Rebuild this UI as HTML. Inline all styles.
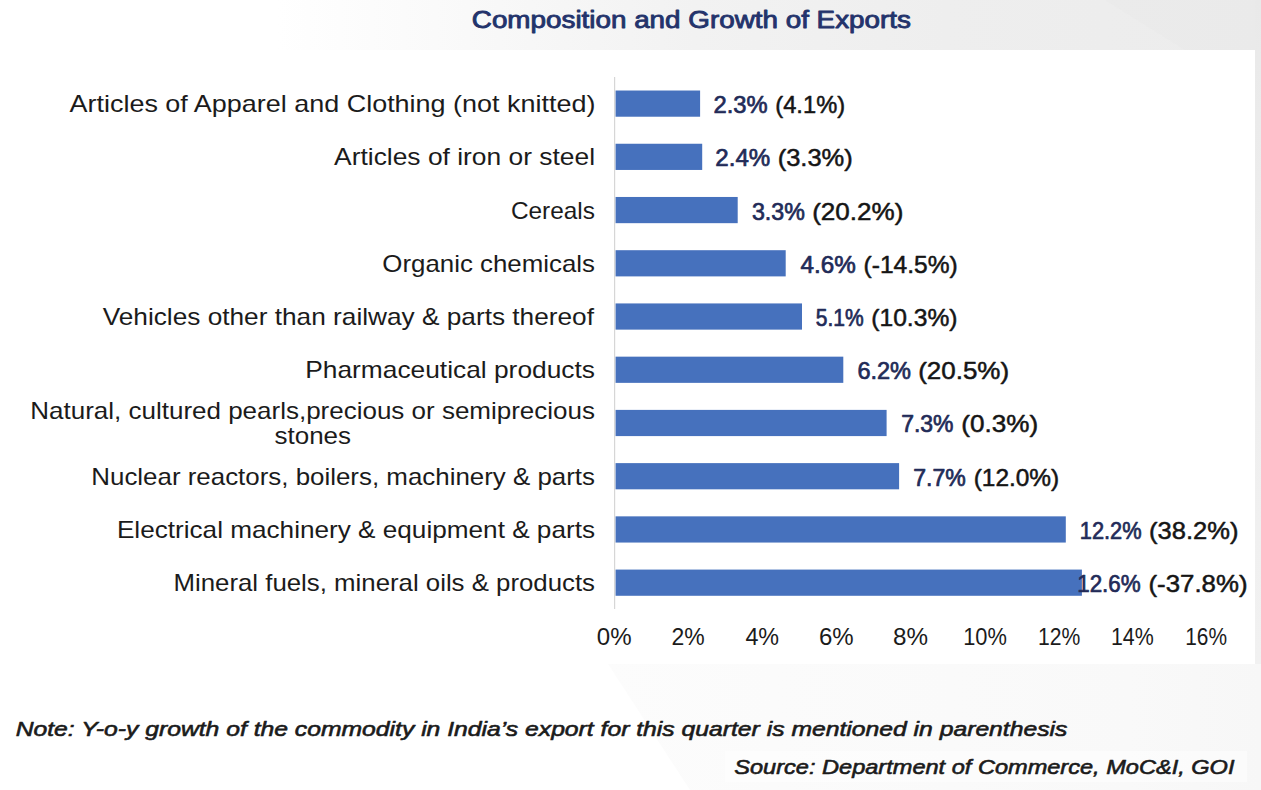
<!DOCTYPE html><html><head><meta charset="utf-8"><style>html,body{margin:0;padding:0;background:#fff;}svg{display:block;font-family:"Liberation Sans",sans-serif;}</style></head><body>
<svg width="1261" height="790" viewBox="0 0 1261 790">
<defs>
<linearGradient id="topg" x1="0" y1="0" x2="1261" y2="0" gradientUnits="userSpaceOnUse">
<stop offset="0" stop-color="#ffffff"/><stop offset="0.22" stop-color="#ffffff"/><stop offset="0.37" stop-color="#f9f9f9"/><stop offset="0.55" stop-color="#f2f2f2"/><stop offset="0.75" stop-color="#eeeeee"/><stop offset="1" stop-color="#ececec"/>
</linearGradient>
<linearGradient id="rg" x1="0" y1="0" x2="0" y2="790" gradientUnits="userSpaceOnUse">
<stop offset="0" stop-color="#e9e9e9"/><stop offset="0.15" stop-color="#ebebeb"/><stop offset="0.5" stop-color="#efefef"/><stop offset="0.84" stop-color="#f1f1f1"/><stop offset="1" stop-color="#f3f3f3"/>
</linearGradient>
<linearGradient id="botg" x1="600" y1="0" x2="1261" y2="0" gradientUnits="userSpaceOnUse">
<stop offset="0" stop-color="#fcfcfc"/><stop offset="0.8" stop-color="#f9f9f9"/><stop offset="1" stop-color="#f7f7f7"/>
</linearGradient>
</defs>
<rect x="0" y="0" width="1261" height="50" fill="url(#topg)"/>
<polygon points="1105,0 1261,0 1261,50 1185,50" fill="#e9e9e9" opacity="0.7"/>
<polygon points="608,664 1261,664 1261,790 690,790" fill="url(#botg)"/>
<rect x="725" y="751" width="522" height="31" fill="#ffffff" opacity="0.45"/>
<rect x="1255" y="0" width="6" height="664" fill="url(#rg)"/>
<rect x="0" y="50" width="1255" height="614" fill="#ffffff"/>

<g fill="#4671BD">
<rect x="615.5" y="90.52" width="84.60" height="26.2"/>
<rect x="615.5" y="143.75" width="86.70" height="26.2"/>
<rect x="615.5" y="196.97" width="122.20" height="26.2"/>
<rect x="615.5" y="250.20" width="170.20" height="26.2"/>
<rect x="615.5" y="303.43" width="186.50" height="26.2"/>
<rect x="615.5" y="356.66" width="227.80" height="26.2"/>
<rect x="615.5" y="409.89" width="271.10" height="26.2"/>
<rect x="615.5" y="463.12" width="283.60" height="26.2"/>
<rect x="615.5" y="516.35" width="450.30" height="26.2"/>
<rect x="615.5" y="569.58" width="466.40" height="26.2"/>
</g>
<rect x="614" y="77" width="1.2" height="532" fill="#D6D6D6"/>
<text id="title" x="471.80" y="27.80" font-size="23.0" font-weight="normal" font-style="normal" fill="#23336B" stroke="#23336B" stroke-width="0.85" stroke-linejoin="round" textLength="439.10" lengthAdjust="spacingAndGlyphs">Composition and Growth of Exports</text>
<text id="cat0" x="69.50" y="112.20" font-size="24" font-weight="normal" font-style="normal" fill="#1b1b1b" textLength="525.90" lengthAdjust="spacingAndGlyphs">Articles of Apparel and Clothing (not knitted)</text>
<text id="cat1" x="334.10" y="165.43" font-size="24" font-weight="normal" font-style="normal" fill="#1b1b1b" textLength="260.90" lengthAdjust="spacingAndGlyphs">Articles of iron or steel</text>
<text id="cat2" x="510.90" y="218.66" font-size="24" font-weight="normal" font-style="normal" fill="#1b1b1b" textLength="84.10" lengthAdjust="spacingAndGlyphs">Cereals</text>
<text id="cat3" x="382.30" y="271.89" font-size="24" font-weight="normal" font-style="normal" fill="#1b1b1b" textLength="212.70" lengthAdjust="spacingAndGlyphs">Organic chemicals</text>
<text id="cat4" x="102.70" y="325.12" font-size="24" font-weight="normal" font-style="normal" fill="#1b1b1b" textLength="491.30" lengthAdjust="spacingAndGlyphs">Vehicles other than railway &amp; parts thereof</text>
<text id="cat5" x="305.20" y="378.35" font-size="24" font-weight="normal" font-style="normal" fill="#1b1b1b" textLength="289.80" lengthAdjust="spacingAndGlyphs">Pharmaceutical products</text>
<text id="cat7" x="91.30" y="484.81" font-size="24" font-weight="normal" font-style="normal" fill="#1b1b1b" textLength="503.70" lengthAdjust="spacingAndGlyphs">Nuclear reactors, boilers, machinery &amp; parts</text>
<text id="cat8" x="116.90" y="538.04" font-size="24" font-weight="normal" font-style="normal" fill="#1b1b1b" textLength="478.10" lengthAdjust="spacingAndGlyphs">Electrical machinery &amp; equipment &amp; parts</text>
<text id="cat9" x="173.50" y="591.27" font-size="24" font-weight="normal" font-style="normal" fill="#1b1b1b" textLength="421.50" lengthAdjust="spacingAndGlyphs">Mineral fuels, mineral oils &amp; products</text>
<text id="cat6_0" x="30.30" y="419.20" font-size="24" font-weight="normal" font-style="normal" fill="#1b1b1b" textLength="564.70" lengthAdjust="spacingAndGlyphs">Natural, cultured pearls,precious or semiprecious</text>
<text id="cat6_1" x="274.50" y="443.90" font-size="24" font-weight="normal" font-style="normal" fill="#1b1b1b" textLength="76.50" lengthAdjust="spacingAndGlyphs">stones</text>
<text id="v0" x="713.50" y="113.10" font-size="23.6" font-weight="normal" font-style="normal" fill="#222B58" stroke="#222B58" stroke-width="0.7" stroke-linejoin="round" textLength="54.10" lengthAdjust="spacingAndGlyphs">2.3%</text>
<text id="p0" x="775.30" y="113.10" font-size="23.6" font-weight="normal" font-style="normal" fill="#151515" stroke="#151515" stroke-width="0.5" stroke-linejoin="round" textLength="69.80" lengthAdjust="spacingAndGlyphs">(4.1%)</text>
<text id="v1" x="715.30" y="166.33" font-size="23.6" font-weight="normal" font-style="normal" fill="#222B58" stroke="#222B58" stroke-width="0.7" stroke-linejoin="round" textLength="54.90" lengthAdjust="spacingAndGlyphs">2.4%</text>
<text id="p1" x="777.70" y="166.33" font-size="23.6" font-weight="normal" font-style="normal" fill="#151515" stroke="#151515" stroke-width="0.5" stroke-linejoin="round" textLength="75.10" lengthAdjust="spacingAndGlyphs">(3.3%)</text>
<text id="v2" x="751.90" y="219.56" font-size="23.6" font-weight="normal" font-style="normal" fill="#222B58" stroke="#222B58" stroke-width="0.7" stroke-linejoin="round" textLength="52.90" lengthAdjust="spacingAndGlyphs">3.3%</text>
<text id="p2" x="812.20" y="219.56" font-size="23.6" font-weight="normal" font-style="normal" fill="#151515" stroke="#151515" stroke-width="0.5" stroke-linejoin="round" textLength="91.20" lengthAdjust="spacingAndGlyphs">(20.2%)</text>
<text id="v3" x="800.60" y="272.79" font-size="23.6" font-weight="normal" font-style="normal" fill="#222B58" stroke="#222B58" stroke-width="0.7" stroke-linejoin="round" textLength="55.20" lengthAdjust="spacingAndGlyphs">4.6%</text>
<text id="p3" x="863.60" y="272.79" font-size="23.6" font-weight="normal" font-style="normal" fill="#151515" stroke="#151515" stroke-width="0.5" stroke-linejoin="round" textLength="94.10" lengthAdjust="spacingAndGlyphs">(-14.5%)</text>
<text id="v4" x="815.80" y="326.02" font-size="23.6" font-weight="normal" font-style="normal" fill="#222B58" stroke="#222B58" stroke-width="0.7" stroke-linejoin="round" textLength="47.90" lengthAdjust="spacingAndGlyphs">5.1%</text>
<text id="p4" x="871.30" y="326.02" font-size="23.6" font-weight="normal" font-style="normal" fill="#151515" stroke="#151515" stroke-width="0.5" stroke-linejoin="round" textLength="86.20" lengthAdjust="spacingAndGlyphs">(10.3%)</text>
<text id="v5" x="857.40" y="379.25" font-size="23.6" font-weight="normal" font-style="normal" fill="#222B58" stroke="#222B58" stroke-width="0.7" stroke-linejoin="round" textLength="53.60" lengthAdjust="spacingAndGlyphs">6.2%</text>
<text id="p5" x="918.20" y="379.25" font-size="23.6" font-weight="normal" font-style="normal" fill="#151515" stroke="#151515" stroke-width="0.5" stroke-linejoin="round" textLength="90.90" lengthAdjust="spacingAndGlyphs">(20.5%)</text>
<text id="v6" x="901.20" y="432.48" font-size="23.6" font-weight="normal" font-style="normal" fill="#222B58" stroke="#222B58" stroke-width="0.7" stroke-linejoin="round" textLength="52.30" lengthAdjust="spacingAndGlyphs">7.3%</text>
<text id="p6" x="961.30" y="432.48" font-size="23.6" font-weight="normal" font-style="normal" fill="#151515" stroke="#151515" stroke-width="0.5" stroke-linejoin="round" textLength="76.80" lengthAdjust="spacingAndGlyphs">(0.3%)</text>
<text id="v7" x="913.30" y="485.71" font-size="23.6" font-weight="normal" font-style="normal" fill="#222B58" stroke="#222B58" stroke-width="0.7" stroke-linejoin="round" textLength="52.50" lengthAdjust="spacingAndGlyphs">7.7%</text>
<text id="p7" x="973.70" y="485.71" font-size="23.6" font-weight="normal" font-style="normal" fill="#151515" stroke="#151515" stroke-width="0.5" stroke-linejoin="round" textLength="85.50" lengthAdjust="spacingAndGlyphs">(12.0%)</text>
<text id="v8" x="1079.80" y="538.94" font-size="23.6" font-weight="normal" font-style="normal" fill="#222B58" stroke="#222B58" stroke-width="0.7" stroke-linejoin="round" textLength="61.80" lengthAdjust="spacingAndGlyphs">12.2%</text>
<text id="p8" x="1149.00" y="538.94" font-size="23.6" font-weight="normal" font-style="normal" fill="#151515" stroke="#151515" stroke-width="0.5" stroke-linejoin="round" textLength="89.40" lengthAdjust="spacingAndGlyphs">(38.2%)</text>
<text id="v9" x="1077.20" y="592.17" font-size="23.6" font-weight="normal" font-style="normal" fill="#222B58" stroke="#222B58" stroke-width="0.7" stroke-linejoin="round" textLength="63.50" lengthAdjust="spacingAndGlyphs">12.6%</text>
<text id="p9" x="1148.50" y="592.17" font-size="23.6" font-weight="normal" font-style="normal" fill="#151515" stroke="#151515" stroke-width="0.5" stroke-linejoin="round" textLength="99.00" lengthAdjust="spacingAndGlyphs">(-37.8%)</text>
<text id="t0" x="596.80" y="645.00" font-size="24" font-weight="normal" font-style="normal" fill="#1b1b1b" textLength="34.80" lengthAdjust="spacingAndGlyphs">0%</text>
<text id="t1" x="671.60" y="645.00" font-size="24" font-weight="normal" font-style="normal" fill="#1b1b1b" textLength="33.20" lengthAdjust="spacingAndGlyphs">2%</text>
<text id="t2" x="745.40" y="645.00" font-size="24" font-weight="normal" font-style="normal" fill="#1b1b1b" textLength="33.70" lengthAdjust="spacingAndGlyphs">4%</text>
<text id="t3" x="819.00" y="645.00" font-size="24" font-weight="normal" font-style="normal" fill="#1b1b1b" textLength="34.70" lengthAdjust="spacingAndGlyphs">6%</text>
<text id="t4" x="893.00" y="645.00" font-size="24" font-weight="normal" font-style="normal" fill="#1b1b1b" textLength="35.00" lengthAdjust="spacingAndGlyphs">8%</text>
<text id="t5" x="963.20" y="645.00" font-size="24" font-weight="normal" font-style="normal" fill="#1b1b1b" textLength="43.70" lengthAdjust="spacingAndGlyphs">10%</text>
<text id="t6" x="1037.90" y="645.00" font-size="24" font-weight="normal" font-style="normal" fill="#1b1b1b" textLength="42.30" lengthAdjust="spacingAndGlyphs">12%</text>
<text id="t7" x="1110.90" y="645.00" font-size="24" font-weight="normal" font-style="normal" fill="#1b1b1b" textLength="42.80" lengthAdjust="spacingAndGlyphs">14%</text>
<text id="t8" x="1185.20" y="645.00" font-size="24" font-weight="normal" font-style="normal" fill="#1b1b1b" textLength="41.80" lengthAdjust="spacingAndGlyphs">16%</text>
<text id="note" x="15.70" y="735.60" font-size="20.2" font-weight="normal" font-style="italic" fill="#1b1b1b" stroke="#1b1b1b" stroke-width="0.6" stroke-linejoin="round" textLength="1051.70" lengthAdjust="spacingAndGlyphs">Note: Y-o-y growth of the commodity in India’s export for this quarter is mentioned in parenthesis</text>
<text id="source" x="734.30" y="773.60" font-size="20.2" font-weight="normal" font-style="italic" fill="#1b1b1b" stroke="#1b1b1b" stroke-width="0.6" stroke-linejoin="round" textLength="500.20" lengthAdjust="spacingAndGlyphs">Source: Department of Commerce, MoC&amp;I, GOI</text>
</svg></body></html>
